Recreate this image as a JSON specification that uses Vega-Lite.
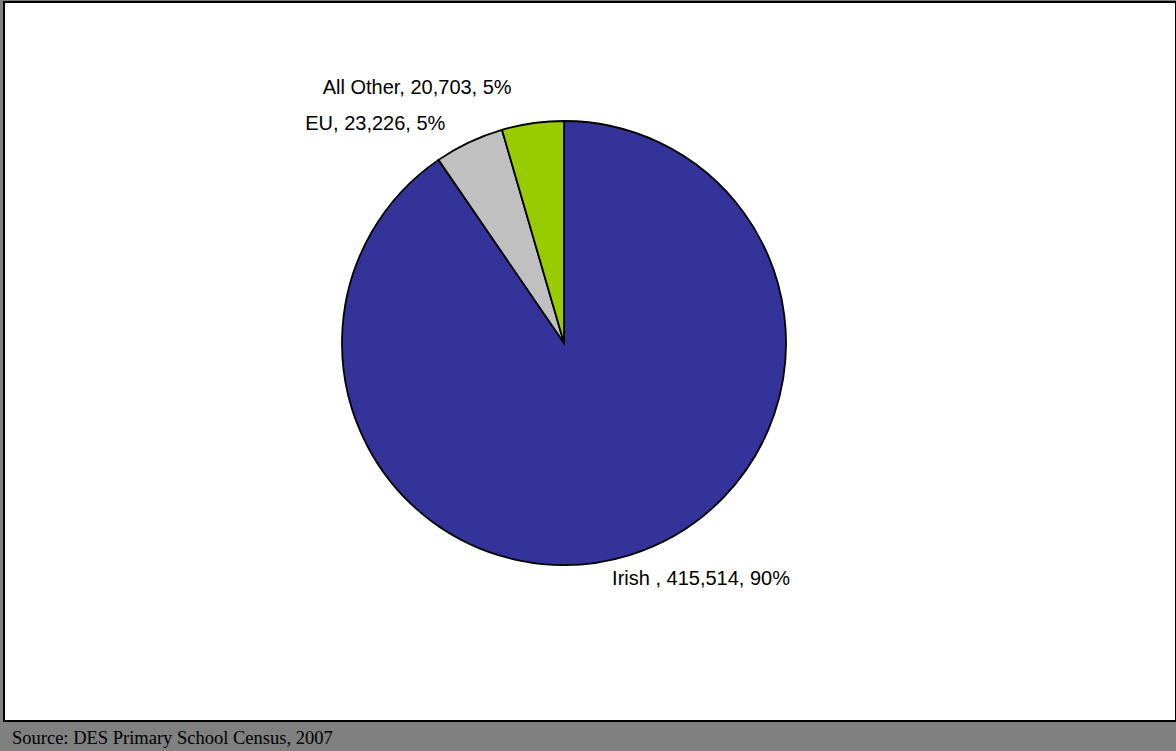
{
  "$schema": "https://vega.github.io/schema/vega-lite/v6.json",
  "width": 1172,
  "height": 719,
  "autosize": {"type": "none"},
  "padding": {"left": 4, "top": 2, "right": 0, "bottom": 30},
  "background": "#808080",
  "view": {"stroke": "black", "strokeWidth": 2, "fill": "white"},
  "title": {
    "text": "Source: DES Primary School Census, 2007",
    "orient": "bottom",
    "anchor": "start",
    "frame": "group",
    "font": "Liberation Serif",
    "fontSize": 18.5,
    "fontWeight": "normal",
    "color": "black",
    "baseline": "top",
    "offset": 8,
    "dx": 8
  },
  "data": {
    "values": [
      {"cat": "Irish", "value": 415514, "rank": 1, "label": "Irish , 415,514, 90%"},
      {"cat": "EU", "value": 23226, "rank": 2, "label": "EU, 23,226, 5%"},
      {"cat": "All Other", "value": 20703, "rank": 3, "label": "All Other, 20,703, 5%"}
    ]
  },
  "encoding": {
    "theta": {"field": "value", "type": "quantitative", "stack": true},
    "order": {"field": "rank", "type": "quantitative"}
  },
  "layer": [
    {
      "mark": {"type": "arc", "outerRadius": 222, "stroke": "black", "strokeWidth": 1.8, "x": 560, "y": 341},
      "encoding": {
        "color": {
          "field": "cat",
          "type": "nominal",
          "scale": {"domain": ["Irish", "EU", "All Other"], "range": ["#333399", "#c0c0c0", "#99cc00"]},
          "legend": null
        }
      }
    },
    {
      "mark": {"type": "text", "radius": 257.6, "dx": -16, "align": "right", "baseline": "middle", "font": "Liberation Sans", "fontSize": 20, "color": "black", "x": 560, "y": 341},
      "encoding": {
        "text": {"condition": {"test": "datum.cat === 'All Other'", "field": "label"}, "value": ""}
      }
    },
    {
      "mark": {"type": "text", "radius": 242.3, "dx": -15, "align": "right", "baseline": "middle", "font": "Liberation Sans", "fontSize": 20, "color": "black", "x": 560, "y": 341},
      "encoding": {
        "text": {"condition": {"test": "datum.cat === 'EU'", "field": "label"}, "value": ""}
      }
    },
    {
      "mark": {"type": "text", "radius": 247, "dx": -25, "align": "left", "baseline": "middle", "font": "Liberation Sans", "fontSize": 20, "color": "black", "x": 560, "y": 341},
      "encoding": {
        "text": {"condition": {"test": "datum.cat === 'Irish'", "field": "label"}, "value": ""}
      }
    }
  ]
}
